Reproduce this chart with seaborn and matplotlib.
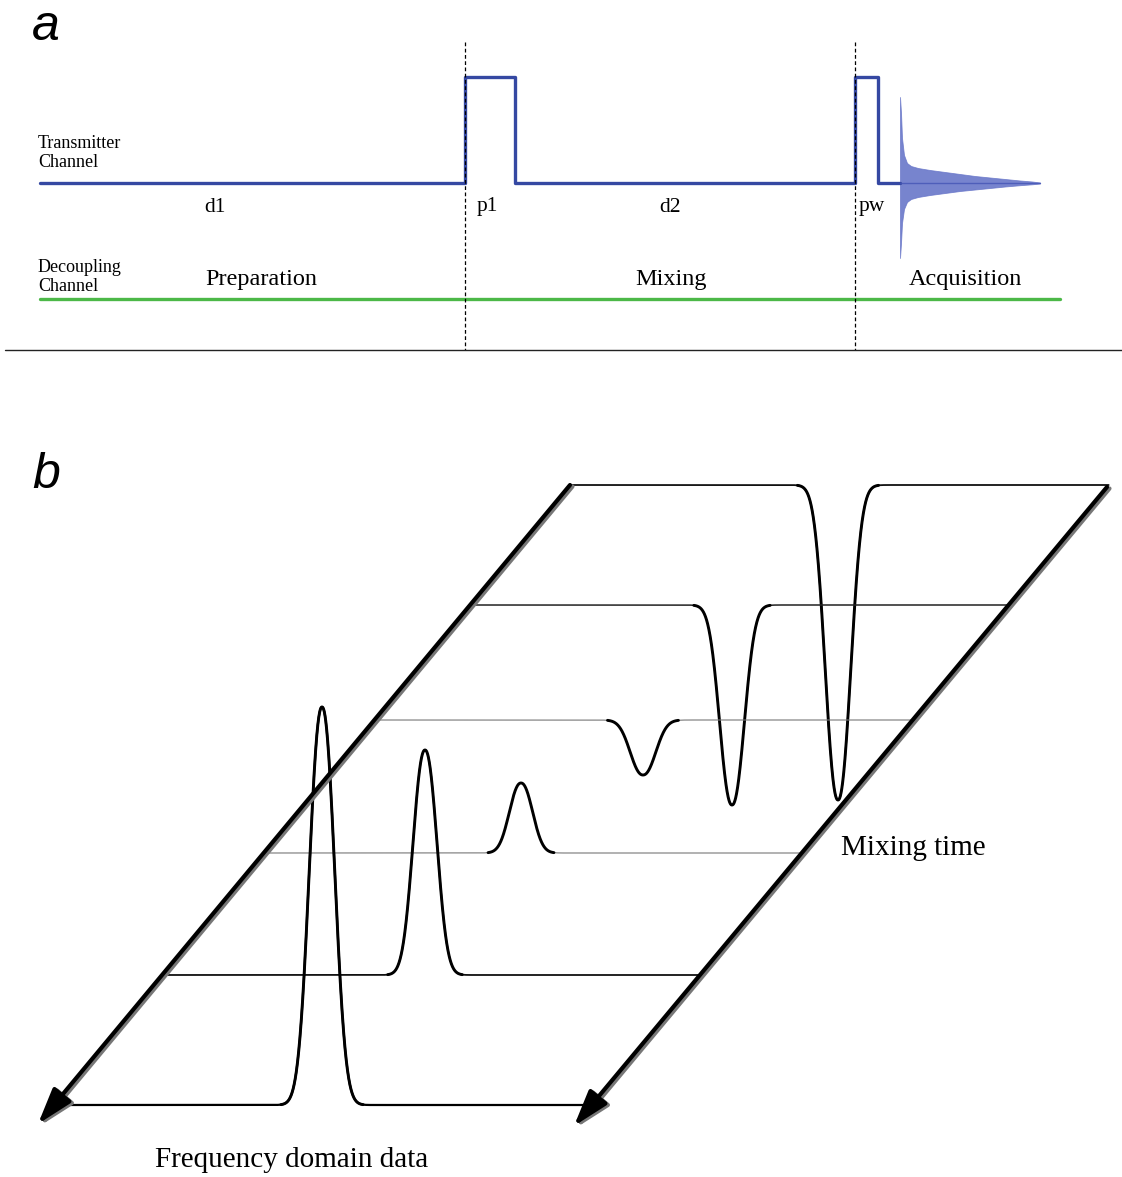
import numpy as np
import pandas as pd
import matplotlib
matplotlib.use("Agg")
import matplotlib.pyplot as plt
import seaborn as sns

# ---------------- data (pixel space) ----------------
# Panel a: pulse sequence (transmitter channel), step outline
seq_x = [40, 465, 465, 515, 515, 855, 855, 878, 878, 900]
seq_level = [0, 0, 1, 1, 0, 0, 1, 1, 0, 0]          # 0 = baseline, 1 = pulse on
# FID envelope (half amplitude above / below baseline, px)
fid_x = [900, 901, 902, 904, 907, 911, 918, 930, 945, 960, 975, 990, 1005, 1020, 1032, 1040]
fid_up = [86, 70, 45, 28, 20, 17, 15, 13, 11, 9, 7, 5.5, 4, 2.5, 1.5, 0.5]
fid_dn = [75, 60, 40, 26, 19, 16, 14, 12, 10, 8, 6.5, 5, 3.5, 2.2, 1.3, 0.5]
# decoupling channel
dec_x = [40, 1060]
# labels
delay_labels = ["d1", "p1", "d2", "pw"]
delay_x = [215, 487, 670, 872]
period_labels = ["Preparation", "Mixing", "Acquisition"]
period_x = [261, 671, 965]
dash_x = [465, 855]

# Panel b: stacked 1D spectra along mixing time
trace_base = [485, 605, 720, 853, 975, 1105]        # baseline rows
peak_center = [838, 732, 643, 521, 425, 322]
peak_intensity = [-315, -200, -55, 70, 225, 398]      # + up, - down
peak_sigma = [17, 16.5, 17, 15.5, 16, 17]
base_lw = [1.3, 1.1, 0.8, 0.8, 1.3, 1.6]
base_col = ["#111111", "#222222", "#777777", "#777777", "#111111", "#000000"]

left_axis = [(570, 485), (38, 1124)]
right_axis = [(1107, 487), (574, 1126)]

# ---------------- figure ----------------
sns.set_theme(style="white")
plt.rcParams["font.family"] = ["Liberation Serif", "DejaVu Serif"]
plt.rcParams["text.color"] = "black"

W, H = 1122, 1177
fig = plt.figure(figsize=(W / 100, H / 100), dpi=100)
ax = fig.add_axes([0, 0, 1, 1])
ax.set_xlim(0, W)
ax.set_ylim(H, 0)
ax.axis("off")

BLUE = "#3548a2"
GREEN = "#4cb848"

# ---- panel a ----
ax.text(32, 27, "a", fontsize=36, style="italic", family="Liberation Sans", va="center", ha="left")

base_y, pulse_y = 183, 77
seq_df = pd.DataFrame({"x": seq_x, "y": [base_y - l * (base_y - pulse_y) for l in seq_level]})
sns.lineplot(data=seq_df, x="x", y="y", sort=False, estimator=None, color=BLUE, lw=2.4, ax=ax)

ax.fill_between(fid_x, [base_y - u for u in fid_up], [base_y + d for d in fid_dn],
                color="#5565c2", alpha=0.8, lw=0.6, edgecolor="#6674c8")
ax.plot([fid_x[0], fid_x[-1]], [base_y, base_y], color="#4455b5", lw=1.0, alpha=0.8)

sns.lineplot(x=dec_x, y=[299, 299], color=GREEN, lw=2.4, ax=ax)

for dx in dash_x:
    ax.plot([dx, dx], [42, 350], color="black", lw=0.9, ls=(0, (3, 2)))
ax.plot([5, 1122], [350, 350], color="#222222", lw=1.0)

ax.text(38, 153, "Transmitter\nChannel", fontsize=13, va="center", ha="left", linespacing=1.2)
ax.text(38, 277, "Decoupling\nChannel", fontsize=13, va="center", ha="left", linespacing=1.2)
for lab, x in zip(delay_labels, delay_x):
    ax.text(x, 207, lab, fontsize=15.5, va="center", ha="center")
for lab, x in zip(period_labels, period_x):
    ax.text(x, 279, lab, fontsize=17.5, va="center", ha="center")

# ---- panel b ----
ax.text(32, 475, "b", fontsize=36, style="italic", family="Liberation Sans", va="center", ha="left")

def edge_x(axis_pts, y):
    (x0, y0), (x1, y1) = axis_pts
    return x0 + (y - y0) * (x1 - x0) / (y1 - y0)

# oblique axes with shadow and arrowheads
for pts in (left_axis, right_axis):
    (x0, y0), (x1, y1) = pts
    ax.annotate("", xy=(x1 + 2.5, y1 + 1.5), xytext=(x0 + 2.5, y0 + 1.5),
                arrowprops=dict(arrowstyle="-|>,head_length=2.2,head_width=0.7", lw=3.0,
                                color="#777777", shrinkA=0, shrinkB=0, mutation_scale=10))
    ax.annotate("", xy=(x1, y1), xytext=(x0, y0),
                arrowprops=dict(arrowstyle="-|>,head_length=2.2,head_width=0.7", lw=3.0,
                                color="black", shrinkA=0, shrinkB=0, mutation_scale=10))

for yb, c, h, s, lw, col in zip(trace_base, peak_center, peak_intensity, peak_sigma, base_lw, base_col):
    xs = edge_x(left_axis, yb)
    xe = edge_x(right_axis, yb)
    if yb == trace_base[-1]:
        xs, xe = xs + 6, xe - 6
    x = np.linspace(xs, xe, 3000)
    dev = h * np.exp(-np.abs((x - c) / s) ** 2.2)
    y = yb - dev
    sns.lineplot(x=x, y=y, sort=False, estimator=None, color=col, lw=lw, ax=ax)
    m = np.abs(dev) > 0.35
    sns.lineplot(x=x[m], y=y[m], sort=False, estimator=None, color="black", lw=2.1, ax=ax)

ax.text(913, 848, "Mixing time", fontsize=21, va="center", ha="center")
ax.text(292, 1160, "Frequency domain data", fontsize=21, va="center", ha="center")

fig.savefig("out.png", dpi=100)
